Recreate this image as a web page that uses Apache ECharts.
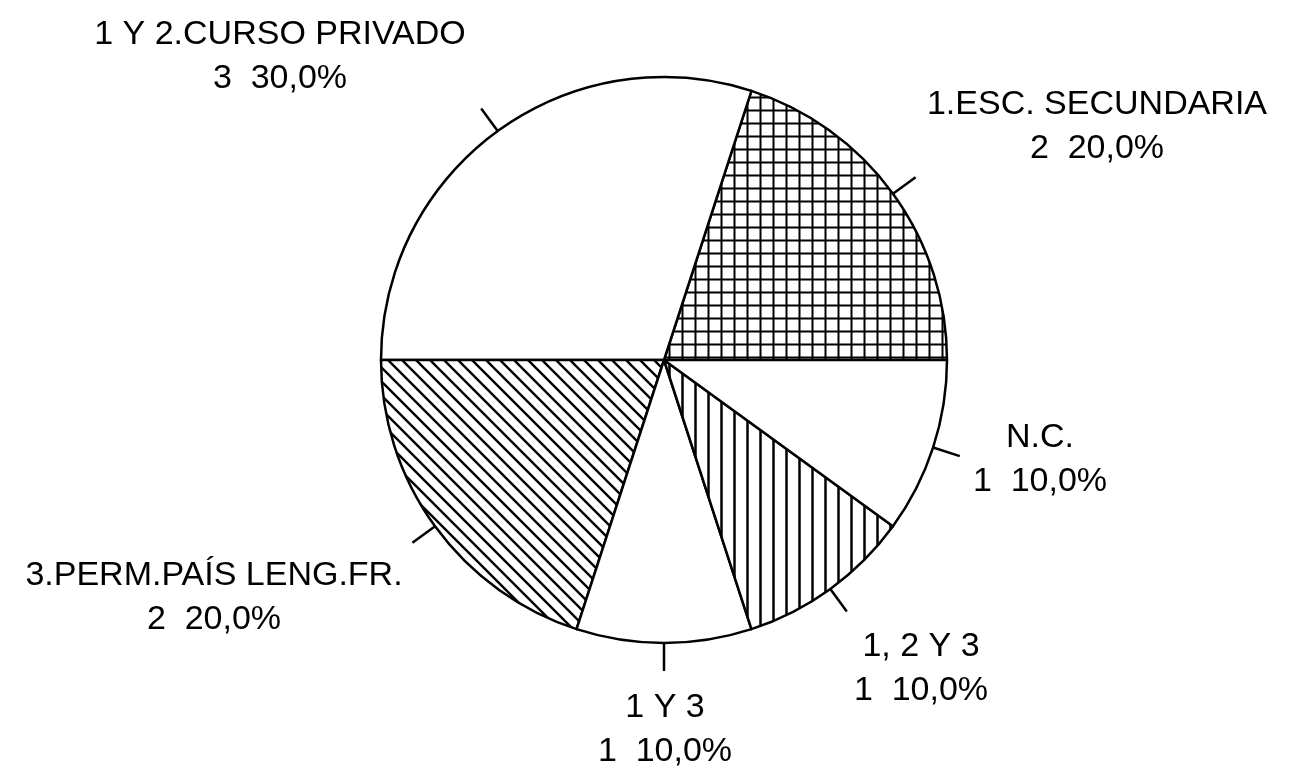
<!DOCTYPE html>
<html>
<head>
<meta charset="utf-8">
<script src="https://cdn.jsdelivr.net/npm/echarts@6/dist/echarts.min.js"></script>
<style>
  html, body { margin: 0; padding: 0; background: #ffffff; }
  #chart { width: 1291px; height: 770px; }
</style>
</head>
<body>
<div id="chart"></div>
<script>
// Slices, in drawing order (counter-clockwise from 3 o'clock)
const categories = [
  '1.ESC. SECUNDARIA',
  '1 Y 2.CURSO PRIVADO',
  '3.PERM.PAÍS LENG.FR.',
  '1 Y 3',
  '1, 2 Y 3',
  'N.C.'
];
const counts = [2, 3, 2, 1, 1, 1];
const fillKinds = ['grid', 'blank', 'diagonal', 'blank', 'vertical', 'blank'];

// Centre of each two-line label block, in pixels
const labelCenters = [
  [1097, 127],
  [280, 57],
  [214, 598],
  [665, 730],
  [921, 669],
  [1040, 460]
];

// Black-and-white hatch fills drawn into small repeating tiles
function makeHatch(kind) {
  const c = document.createElement('canvas');
  let w = 13, h = 13;
  if (kind === 'diagonal') { w = 14; h = 14; }
  c.width = w; c.height = h;
  const g = c.getContext('2d');
  g.fillStyle = '#ffffff';
  g.fillRect(0, 0, w, h);
  g.strokeStyle = '#000000';
  g.lineCap = 'butt';
  if (kind === 'grid') {
    g.lineWidth = 2;
    g.beginPath();
    g.moveTo(6.5, 0); g.lineTo(6.5, h);
    g.moveTo(0, 6.5); g.lineTo(w, 6.5);
    g.stroke();
  } else if (kind === 'vertical') {
    g.lineWidth = 2.5;
    g.beginPath();
    g.moveTo(6.5, 0); g.lineTo(6.5, h);
    g.stroke();
  } else if (kind === 'diagonal') {
    g.lineWidth = 2.4;
    g.beginPath();
    for (let k = -1; k <= 1; k++) {
      g.moveTo(k * w - 2, -2);
      g.lineTo(k * w + w + 2, h + 2);
    }
    g.stroke();
  }
  return c;
}

function fillFor(kind) {
  if (kind === 'blank') return '#ffffff';
  return { image: makeHatch(kind), repeat: 'repeat' };
}

const pieData = categories.map((name, i) => ({
  name: name,
  value: counts[i],
  itemStyle: { color: fillFor(fillKinds[i]) }
}));

function formatLabel(p) {
  return p.name + '\n' + p.value + '  ' + p.percent.toFixed(1).replace('.', ',') + '%';
}

const chart = echarts.init(document.getElementById('chart'), null, { renderer: 'canvas' });
chart.setOption({
  backgroundColor: '#ffffff',
  animation: false,
  series: [{
    type: 'pie',
    center: [664, 360],
    radius: [0, 283],
    startAngle: 0,
    clockwise: false,
    avoidLabelOverlap: false,
    silent: true,
    itemStyle: { borderColor: '#000000', borderWidth: 2.5 },
    label: {
      show: true,
      position: 'outside',
      formatter: formatLabel,
      fontFamily: 'Liberation Sans, Arial, sans-serif',
      fontSize: 34,
      lineHeight: 44,
      color: '#000000'
    },
    labelLine: {
      show: true,
      length: 28,
      length2: 0,
      smooth: false,
      lineStyle: { color: '#000000', width: 2.5 }
    },
    labelLayout: function (params) {
      const pos = labelCenters[params.dataIndex];
      return {
        x: pos[0],
        y: pos[1],
        align: 'center',
        verticalAlign: 'middle',
        labelLinePoints: params.labelLinePoints ? params.labelLinePoints.slice(0, 2) : undefined
      };
    },
    data: pieData
  }]
});
</script>
</body>
</html>
